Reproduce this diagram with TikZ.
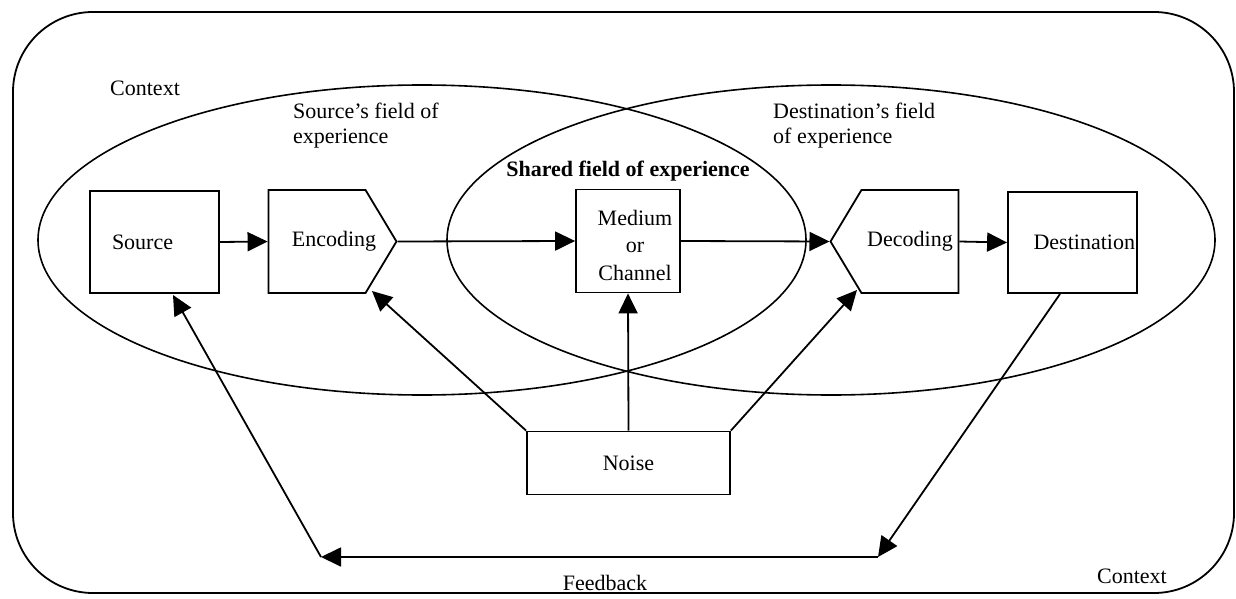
\documentclass[tikz,border=0pt]{standalone}
\usepackage{fontspec}
\setmainfont{Liberation Serif}
\usetikzlibrary{arrows.meta,shapes.geometric,shapes.symbols}

\begin{document}
\begin{tikzpicture}[x=1pt, y=-1pt,
      every node/.style={font=\fontsize{22}{25}\selectfont},
      box/.style={rectangle, draw, line width=1.8pt, inner sep=0pt},
      coder/.style={signal, draw, line width=1.8pt, inner sep=0pt,
                    minimum width=128pt, minimum height=103pt,
                    signal pointer angle=118, signal from=nowhere},
      field/.style={ellipse, draw, line width=1.6pt, inner sep=0pt,
                    minimum width=768pt, minimum height=310pt},
      lbl/.style={inner sep=0pt, align=left},
      arr/.style={-{Triangle[length=20pt,width=19pt]}, line width=1.8pt},
    ]
    \useasboundingbox (0,0) rectangle (1236,599);

    % Context frame and the two fields of experience
    \node[draw, line width=1.8pt, rounded corners=80pt, inner sep=0pt,
          minimum width=1221pt, minimum height=581pt] (ctx) at (623.5,302.5) {};
    \node[field] (srcfield) at (422,240) {};
    \node[field] (dstfield) at (831,240) {};

    % Labels of the regions
    \node[lbl, anchor=west] (ctxtop) at (110,88) {Context};
    \node[lbl] (ctxbot) at (1132,576) {Context};
    \node[lbl, anchor=north west] (srclbl) at (293,103) {Source's field of\\experience};
    \node[lbl, anchor=north west] (dstlbl) at (773,103) {Destination's field\\of experience};
    \node[inner sep=0pt, font=\fontsize{22}{25}\selectfont\bfseries] (shared) at (628,171)
      {Shared field of experience};

    % Row: Source -> Encoding -> Medium -> Decoding -> Destination
    \node[box, minimum width=129pt, minimum height=102pt,
          text width=85pt, align=left] (src) at (154.5,242) {Source};
    \node[coder, signal to=east] (enc) at (317,241.5) {};
    \node[inner sep=0pt] (enctxt) at (334,241) {Encoding};
    \node[box, minimum width=104pt, minimum height=103pt] (med) at (628,241) {};
    \node[inner sep=0pt, align=center, font=\fontsize{22}{27.5}\selectfont]
      (medtxt) at (635,245) {Medium\\or\\Channel};
    \node[coder, signal to=west] (dec) at (910,241.5) {Decoding};
    \node[box, minimum width=129pt, minimum height=101pt,
          text width=125pt, align=right] (dst) at (1072.5,242.5) {Destination};

    % Noise
    \node[box, minimum width=203pt, minimum height=63pt] (noise) at (628.5,463) {Noise};

    % Loose ends
    \coordinate (encin) at (372,291);
    \coordinate (decin) at (857,290);
    \coordinate (srcin) at (173,295);
    \coordinate (dstout) at (1060,294);
    \coordinate (fbR) at (878,557);
    \coordinate (fbL) at (321,557);

    % Arrows along the row
    \draw[arr] (src.east) -- (enc.west);
    \draw[arr] (enc.east) -- (med.west);
    \draw[arr] (med.east) -- (dec.west);
    \draw[arr] (dec.east) -- (dst.west);

    % Arrows from noise
    \draw[arr] (noise.north west) -- (encin);
    \draw[arr] (noise.north) -- (med.south);
    \draw[arr] (noise.north east) -- (decin);

    % Feedback loop
    \draw[arr] (dstout) -- (fbR);
    \draw[arr] (fbR) -- (fbL);
    \draw[arr] (fbL) -- (srcin);
    \node[inner sep=0pt] (fblbl) at (605,583) {Feedback};

\end{tikzpicture}
\end{document}
